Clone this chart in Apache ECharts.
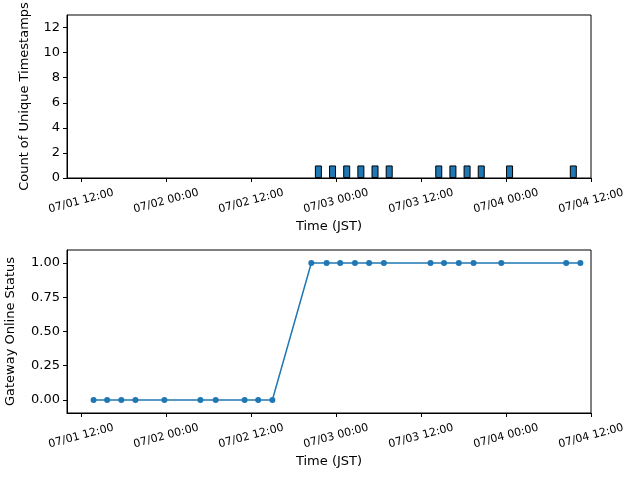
<!DOCTYPE html>
<html>
<head>
<meta charset="utf-8">
<script src="https://cdn.jsdelivr.net/npm/echarts@6/dist/echarts.min.js"></script>
<style>
  html, body { margin: 0; padding: 0; background: #fff; }
  #chart { width: 640px; height: 480px; }
</style>
</head>
<body>
<div id="chart"></div>
<script>
// Hourly bins (bar centres) with their count of unique timestamps
const barTimes = [
    '2024-07-02 21:30', '2024-07-02 23:30', '2024-07-03 01:30', '2024-07-03 03:30',
    '2024-07-03 05:30', '2024-07-03 07:30', '2024-07-03 14:30', '2024-07-03 16:30',
    '2024-07-03 18:30', '2024-07-03 20:30', '2024-07-04 00:30', '2024-07-04 09:30'
];
const barCounts = [1, 1, 1, 1, 1, 1, 1, 1, 1, 1, 1, 1];

// Gateway online status samples
const statusTimes = [
    '2024-07-01 13:45', '2024-07-01 15:40', '2024-07-01 17:40', '2024-07-01 19:40',
    '2024-07-01 23:45', '2024-07-02 04:50', '2024-07-02 07:00', '2024-07-02 11:05',
    '2024-07-02 13:00', '2024-07-02 15:00', '2024-07-02 20:30', '2024-07-02 22:40',
    '2024-07-03 00:35', '2024-07-03 02:40', '2024-07-03 04:40', '2024-07-03 06:45',
    '2024-07-03 13:20', '2024-07-03 15:15', '2024-07-03 17:20', '2024-07-03 19:25',
    '2024-07-03 23:20', '2024-07-04 08:30', '2024-07-04 10:30'
];
const statusValues = [0, 0, 0, 0, 0, 0, 0, 0, 0, 0, 1, 1, 1, 1, 1, 1, 1, 1, 1, 1, 1, 1, 1];

// Axis ticks
const xTicks = [
    '2024-07-01 12:00', '2024-07-02 00:00', '2024-07-02 12:00', '2024-07-03 00:00',
    '2024-07-03 12:00', '2024-07-04 00:00', '2024-07-04 12:00'
];
const countTicks = [0, 2, 4, 6, 8, 10, 12];
const statusTicks = [0, 0.25, 0.5, 0.75, 1];

const xMin = '2024-07-01 10:00';
const xMax = '2024-07-04 12:00';
const blue = '#1f77b4';
const font = 'DejaVu Sans';

// Parse 'YYYY-MM-DD HH:mm' to a timestamp
function ts(s) {
    return echarts.time.parse(s).getTime();
}

let tickValues = xTicks.map(ts);

// Shared time axis (value axis holding timestamps)
function timeAxis(gridIndex) {
    return {
        type: 'value',
        gridIndex: gridIndex,
        min: ts(xMin),
        max: ts(xMax),
        name: 'Time (JST)',
        nameLocation: 'middle',
        nameGap: 42,
        nameMoveOverlap: false,
        nameTextStyle: {color: '#000', fontSize: 13, fontFamily: font, verticalAlign: 'top'},
        axisLine: {show: true, onZero: false, lineStyle: {color: '#000', width: 1}},
        axisTick: {show: true, length: 4, lineStyle: {color: '#000'}, customValues: tickValues},
        axisLabel: {
            customValues: tickValues,
            rotate: 15,
            align: 'center',
            verticalAlign: 'middle',
            margin: 23,
            fontSize: 11,
            fontFamily: font,
            color: '#000',
            hideOverlap: false,
            showMinLabel: true,
            showMaxLabel: true,
            formatter: v => echarts.time.format(v, '{MM}/{dd} {HH}:{mm}', false)
        },
        splitLine: {show: false}
    };
}

let chart = echarts.init(document.getElementById('chart'));

let option = {
    animation: false,
    backgroundColor: '#fff',
    grid: [
        {left: 67, right: 49, top: 15, height: 163, show: true, borderColor: '#000', borderWidth: 1,
            containLabel: false, outerBoundsMode: 'none'},
        {left: 67, right: 49, top: 250, height: 163, show: true, borderColor: '#000', borderWidth: 1,
            containLabel: false, outerBoundsMode: 'none'}
    ],
    xAxis: [timeAxis(0), timeAxis(1)],
    yAxis: [
        {
            type: 'value',
            gridIndex: 0,
            min: 0,
            max: 13,
            name: 'Count of Unique Timestamps',
            nameLocation: 'middle',
            nameGap: 36,
            nameRotate: 90,
            nameTextStyle: {color: '#000', fontSize: 13, fontFamily: font},
            axisLine: {show: true, lineStyle: {color: '#000'}},
            axisTick: {show: true, length: 4, lineStyle: {color: '#000'}, customValues: countTicks},
            axisLabel: {customValues: countTicks, fontSize: 13, fontFamily: font, color: '#000', margin: 7},
            splitLine: {show: false}
        },
        {
            type: 'value',
            gridIndex: 1,
            min: -0.095,
            max: 1.095,
            name: 'Gateway Online Status',
            nameLocation: 'middle',
            nameGap: 50,
            nameRotate: 90,
            nameTextStyle: {color: '#000', fontSize: 13, fontFamily: font},
            axisLine: {show: true, onZero: false, lineStyle: {color: '#000'}},
            axisTick: {show: true, length: 4, lineStyle: {color: '#000'}, customValues: statusTicks},
            axisLabel: {
                customValues: statusTicks, fontSize: 13, fontFamily: font, color: '#000', margin: 7,
                formatter: v => v.toFixed(2)
            },
            splitLine: {show: false}
        }
    ],
    series: [
        {
            type: 'bar',
            xAxisIndex: 0,
            yAxisIndex: 0,
            barWidth: 7,
            itemStyle: {color: blue, borderColor: '#000', borderWidth: 1},
            data: barTimes.map((t, i) => [ts(t), barCounts[i]])
        },
        {
            type: 'line',
            xAxisIndex: 1,
            yAxisIndex: 1,
            symbol: 'circle',
            symbolSize: 6,
            showAllSymbol: true,
            lineStyle: {color: blue, width: 1.5},
            itemStyle: {color: blue},
            data: statusTimes.map((t, i) => [ts(t), statusValues[i]])
        }
    ]
};

chart.setOption(option);
</script>
</body>
</html>
